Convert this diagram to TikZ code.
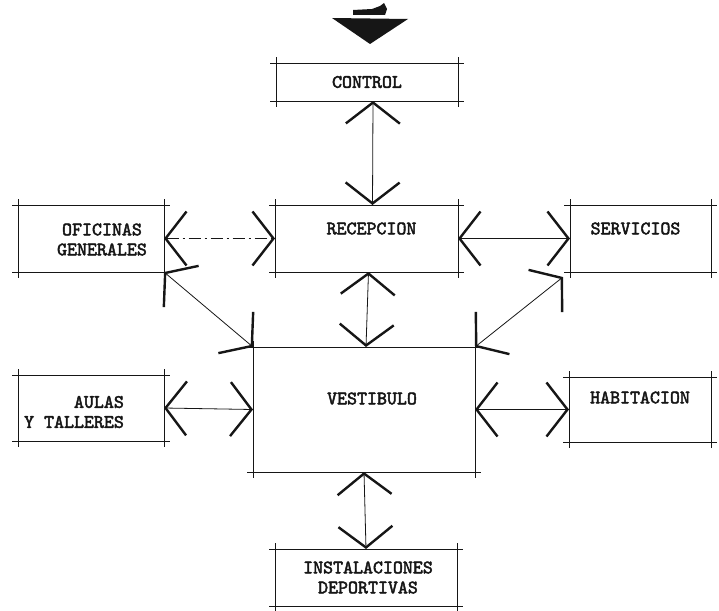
\documentclass[tikz,border=0pt]{standalone}
\usepackage{fontspec}
\newfontfamily\typewriter{lmmono10-regular}[Extension=.otf,BoldFont=lmmono10-regular,BoldFeatures={FakeBold=2.5}]
\usetikzlibrary{arrows.meta}
\definecolor{Ink}{HTML}{161616}
\tikzset{
  sbox/.style={inner sep=0pt,outer sep=0pt},
  frame/.style={draw=Ink,line width=.9pt},
  lbl/.style={font=\typewriter\bfseries\fontsize{19}{20}\selectfont,align=center,text=Ink,inner sep=0pt},
  link/.style={draw=Ink,line width=.8pt,{Straight Barb[length=21pt,width=54pt,line width=2.4pt]}-{Straight Barb[length=21pt,width=54pt,line width=2.4pt]}},
  brokenlink/.style={link,dash pattern=on 12pt off 4pt on 2pt off 4pt}
}
\begin{document}
\begin{tikzpicture}[x=1pt,y=-1pt]
  \useasboundingbox (0,0) rectangle (719,610);
  % entrance mark
  \fill[Ink] (332,18) -- (408,19) -- (370,44) -- cycle;
  \fill[Ink] (353,10) -- (372,9) -- (380,6) -- (384,3) -- (387,9) -- (385,15) -- (353,15) -- cycle;
  % spaces
  \node[sbox,minimum width=182pt,minimum height=38pt,label={[lbl]center:CONTROL}] (control) at (367,82) {};
  \node[sbox,minimum width=183pt,minimum height=67pt,label={[lbl,xshift=5pt,yshift=10pt]center:RECEPCION}] (recep) at (366.5,238.5) {};
  \node[sbox,minimum width=146pt,minimum height=67pt,label={[lbl,xshift=11pt,yshift=-1pt]center:OFICINAS\\GENERALES}] (ofic) at (91,238.5) {};
  \node[sbox,minimum width=141pt,minimum height=67pt,label={[lbl,xshift=-5pt,yshift=10pt]center:SERVICIOS}] (serv) at (640.5,238.5) {};
  \node[sbox,minimum width=222pt,minimum height=125pt,label={[lbl,xshift=8pt,yshift=11pt]center:VESTIBULO}] (vest) at (364,409.5) {};
  \node[sbox,minimum width=146pt,minimum height=66pt,label={[lbl,align=right,xshift=-17pt,yshift=-4pt]center:AULAS\\Y TALLERES}] (aulas) at (91,408) {};
  \node[sbox,minimum width=142pt,minimum height=65pt,label={[lbl,yshift=12pt]center:HABITACION}] (habit) at (640,409.5) {};
  \node[sbox,minimum width=182pt,minimum height=57pt,label={[lbl,xshift=2pt]center:INSTALACIONES\\DEPORTIVAS}] (inst) at (366,577.5) {};
  % sketched frames, lines run past the corners
  \foreach \b in {control,recep,ofic,serv,vest,aulas,habit,inst}{
    \draw[frame] ([xshift=-6pt]\b.north west) -- ([xshift=6pt]\b.north east);
    \draw[frame] ([xshift=-6pt]\b.south west) -- ([xshift=6pt]\b.south east);
    \draw[frame] ([yshift=6pt]\b.north west) -- ([yshift=-6pt]\b.south west);
    \draw[frame] ([yshift=6pt]\b.north east) -- ([yshift=-6pt]\b.south east);
  }
  % relations
  \draw[link] ([xshift=6pt]control.south) -- ([xshift=6pt]recep.north);
  \draw[brokenlink] (ofic.east) -- (recep.west);
  \draw[link] (recep.east) -- (serv.west);
  \draw[link] ([xshift=2pt]recep.south) -- ([xshift=2pt]vest.north);
  \draw[link] (ofic.south east) -- (vest.north west);
  \draw[link] ([xshift=-7pt,yshift=-5pt]serv.south west) -- (vest.north east);
  \draw[link] (aulas.east) -- (vest.west);
  \draw[link] (vest.east) -- (habit.west);
  \draw[link] (vest.south) -- (inst.north);
\end{tikzpicture}
\end{document}
